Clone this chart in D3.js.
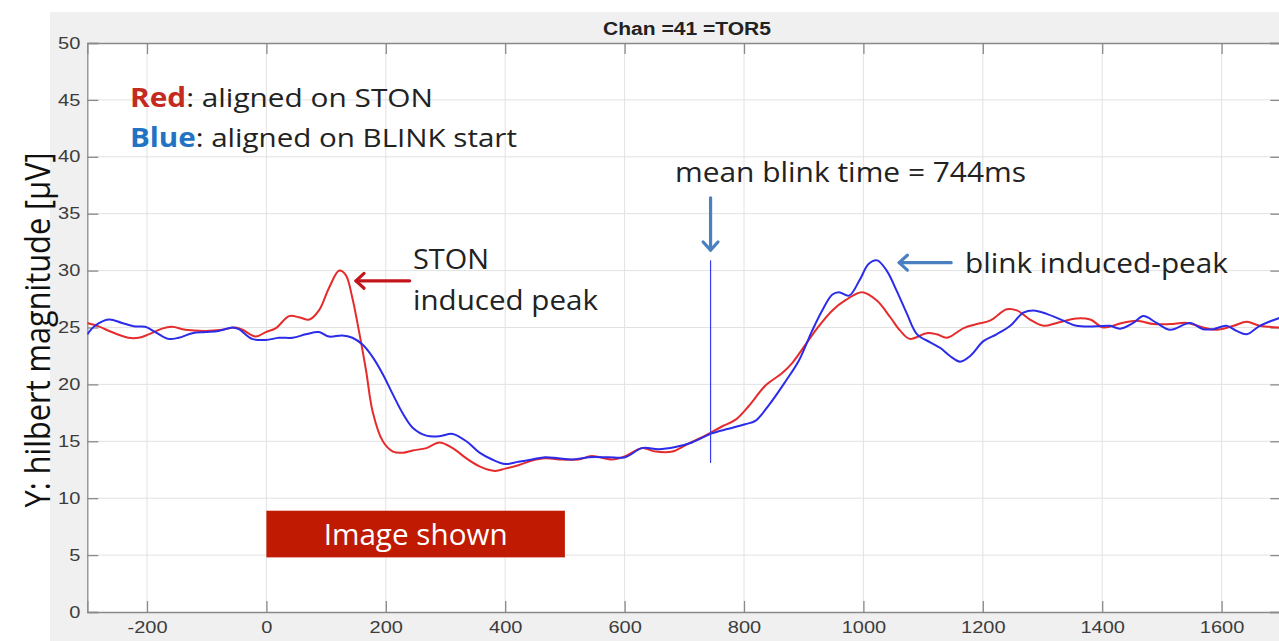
<!DOCTYPE html>
<html>
<head>
<meta charset="utf-8">
<script src="https://cdn.jsdelivr.net/npm/d3@7"></script>
<style>
  html, body { margin: 0; padding: 0; background: #fff; }
  svg { display: block; }
</style>
</head>
<body>
<div id="chart"></div>
<script>
// time axis (ms) and hilbert magnitude (uV)
const redTime = [-300, -281, -259, -231, -214, -197, -175, -158, -136, -102, -74, -52, -40, -18, -1, 16, 38, 55, 72, 88,
  105, 122, 133, 144, 155, 167, 178, 195, 212, 229, 245, 268, 290, 312, 335, 357, 383, 400, 422, 445,
  467, 495, 523, 545, 579, 601, 629, 652, 680, 707, 735, 763, 786, 808, 836, 864, 881, 903, 925, 948,
  970, 998, 1023, 1045, 1062, 1078, 1106, 1123, 1140, 1168, 1190, 1212, 1240, 1257, 1279, 1302, 1324, 1357, 1380, 1402,
  1430, 1458, 1486, 1514, 1542, 1569, 1592, 1620, 1642, 1664, 1700];
const redVals = [25.4, 25.1, 24.6, 24.1, 24.1, 24.4, 24.9, 25.06, 24.8, 24.7, 24.8, 25.0, 24.8, 24.2, 24.6, 24.95, 26.0, 25.9, 25.7, 26.5,
  28.5, 30.0, 29.6, 27.6, 24.7, 21.2, 17.6, 15.0, 14.1, 14.0, 14.2, 14.4, 14.9, 14.4, 13.5, 12.8, 12.4, 12.6, 12.9, 13.3,
  13.5, 13.4, 13.4, 13.7, 13.4, 13.7, 14.4, 14.1, 14.1, 14.8, 15.5, 16.3, 16.9, 18.1, 19.9, 21.0, 21.9, 23.5, 25.1, 26.5,
  27.4, 28.1, 27.35, 25.9, 24.7, 24.0, 24.5, 24.4, 24.1, 24.95, 25.3, 25.6, 26.6, 26.5, 25.7, 25.15, 25.4, 25.8, 25.7, 25.0,
  25.35, 25.6, 25.3, 25.3, 25.4, 25.0, 24.8, 25.15, 25.5, 25.15, 25.0];

const blueTime = [-300, -287, -264, -242, -222, -203, -186, -164, -147, -124, -102, -80, -57, -46, -24, -1, 21, 44, 66, 88,
  105, 127, 144, 161, 178, 195, 212, 229, 245, 268, 290, 312, 335, 357, 378, 400, 422, 445, 467, 489,
  512, 540, 573, 601, 629, 657, 685, 713, 746, 774, 802, 819, 842, 870, 892, 914, 931, 948, 959, 976,
  993, 1009, 1023, 1039, 1056, 1073, 1090, 1112, 1129, 1145, 1162, 1179, 1201, 1223, 1246, 1268, 1285, 1307, 1335, 1357,
  1391, 1413, 1430, 1452, 1469, 1491, 1514, 1547, 1569, 1586, 1608, 1625, 1642, 1664, 1700];
const blueVals = [24.4, 25.15, 25.7, 25.4, 25.1, 25.06, 24.6, 24.0, 24.1, 24.5, 24.6, 24.7, 25.0, 24.85, 24.0, 23.9, 24.1, 24.1, 24.4, 24.6,
  24.2, 24.3, 24.1, 23.5, 22.4, 20.9, 19.1, 17.4, 16.2, 15.5, 15.45, 15.65, 15.0, 14.0, 13.4, 13.0, 13.2, 13.4, 13.6, 13.5,
  13.4, 13.6, 13.6, 13.6, 14.4, 14.3, 14.5, 14.9, 15.7, 16.1, 16.5, 16.8, 18.2, 20.3, 22.1, 24.7, 26.5, 27.9, 28.1, 27.8,
  29.1, 30.6, 30.9, 30.0, 28.2, 26.2, 24.4, 23.7, 23.2, 22.5, 22.0, 22.5, 23.8, 24.4, 25.15, 26.3, 26.5, 26.2, 25.6, 25.15,
  25.1, 25.15, 24.9, 25.4, 26.0, 25.4, 24.8, 25.4, 24.85, 24.85, 25.15, 24.7, 24.4, 25.15, 25.9];

const xTicks = [-200, 0, 200, 400, 600, 800, 1000, 1200, 1400, 1600];
const yTicks = [0, 5, 10, 15, 20, 25, 30, 35, 40, 45, 50];

const meanBlink = 744;       // ms
const blinkLineRange = [13.1, 30.9];
const imageShown = [0, 500]; // ms
const imageBoxRange = [4.8, 8.9];

const width = 1279, height = 641;
const plot = { left: 87.3, right: 1281.3, top: 43, bottom: 612 };
const axisColor = '#8a8a8a';
const tickLen = 11;
const stretch = 1.25; // the source figure is stretched horizontally

const svg = d3.select('#chart').append('svg')
  .attr('width', width)
  .attr('height', height);

// figure background (matlab grey)
svg.append('rect')
  .attr('x', 50).attr('y', 12)
  .attr('width', width - 50).attr('height', height - 12)
  .attr('fill', '#f0f0f0');

const x = d3.scaleLinear().domain([-300, 1700]).range([plot.left, plot.right]);
const y = d3.scaleLinear().domain([0, 50]).range([plot.bottom, plot.top]);

svg.append('rect')
  .attr('x', plot.left).attr('y', plot.top)
  .attr('width', plot.right - plot.left).attr('height', plot.bottom - plot.top)
  .attr('fill', '#fff');

svg.append('defs').append('clipPath').attr('id', 'clip')
  .append('rect')
  .attr('x', plot.left).attr('y', plot.top)
  .attr('width', plot.right - plot.left).attr('height', plot.bottom - plot.top);

// grid
const grid = svg.append('g').attr('stroke', '#e2e2e2').attr('stroke-width', 1);
grid.selectAll('.gx').data(xTicks).enter().append('line')
  .attr('x1', d => x(d)).attr('x2', d => x(d))
  .attr('y1', plot.top).attr('y2', plot.bottom);
grid.selectAll('.gy').data(yTicks.slice(1, -1)).enter().append('line')
  .attr('x1', plot.left).attr('x2', plot.right)
  .attr('y1', d => y(d)).attr('y2', d => y(d));

// axes (inward ticks, box on)
const fmt = d => String(d);
const xAxis = d3.axisBottom(x).tickValues(xTicks).tickSize(-tickLen).tickPadding(10).tickFormat(fmt);
const yAxis = d3.axisLeft(y).tickValues(yTicks).tickSize(-tickLen).tickPadding(8).tickFormat(fmt);
const xTop = d3.axisTop(x).tickValues(xTicks).tickSize(-tickLen).tickFormat('');
const yRight = d3.axisRight(y).tickValues(yTicks).tickSize(-tickLen).tickFormat('');

const styleAxis = g => {
  g.select('.domain').attr('stroke', axisColor).attr('stroke-width', 1.3);
  g.selectAll('.tick line').attr('stroke', axisColor).attr('stroke-width', 1.3);
  g.selectAll('.tick text')
    .attr('fill', '#3c3c3c')
    .attr('font-family', 'Liberation Sans, Arial, sans-serif')
    .attr('font-size', 16);
};

svg.append('g').attr('transform', `translate(0,${plot.bottom})`).call(xAxis).call(styleAxis)
  .selectAll('.tick text').attr('transform', `scale(${stretch},1)`).attr('x', 0).attr('dy', '0.71em');
svg.append('g').attr('transform', `translate(${plot.left},0)`).call(yAxis).call(styleAxis)
  .selectAll('.tick text').attr('transform', `scale(${stretch},1)`)
  .attr('x', -7 / stretch);
svg.append('g').attr('transform', `translate(0,${plot.top})`).call(xTop).call(styleAxis);
svg.append('g').attr('transform', `translate(${plot.right},0)`).call(yRight).call(styleAxis);

// title
svg.append('text')
  .attr('x', 687).attr('y', 34.5)
  .attr('text-anchor', 'middle')
  .attr('font-family', 'Liberation Sans, Arial, sans-serif')
  .attr('font-weight', 'bold')
  .attr('font-size', 18)
  .attr('textLength', 168).attr('lengthAdjust', 'spacingAndGlyphs')
  .attr('fill', '#222')
  .text('Chan =41 =TOR5');

// y label
svg.append('text')
  .attr('transform', `translate(50,330) scale(${stretch},1) rotate(-90)`)
  .attr('text-anchor', 'middle')
  .attr('font-family', 'Open Sans, sans-serif')
  .attr('font-size', 28)
  .attr('textLength', 355).attr('lengthAdjust', 'spacingAndGlyphs')
  .attr('fill', '#111')
  .text('Y: hilbert magnitude [µV]');

// image shown box
svg.append('rect')
  .attr('x', x(imageShown[0])).attr('y', y(imageBoxRange[1]))
  .attr('width', x(imageShown[1]) - x(imageShown[0]))
  .attr('height', y(imageBoxRange[0]) - y(imageBoxRange[1]))
  .attr('fill', '#c01a02');
svg.append('text')
  .attr('x', (x(imageShown[0]) + x(imageShown[1])) / 2).attr('y', 545)
  .attr('text-anchor', 'middle')
  .attr('font-family', 'Open Sans, sans-serif')
  .attr('font-size', 30)
  .attr('textLength', 184).attr('lengthAdjust', 'spacingAndGlyphs')
  .attr('fill', '#fff')
  .text('Image shown');

// curves
const line = d3.line()
  .x(d => x(d[0]))
  .y(d => y(d[1]))
  .curve(d3.curveCatmullRom.alpha(0.5));

const lines = svg.append('g').attr('clip-path', 'url(#clip)');
lines.append('path')
  .datum(d3.zip(redTime, redVals))
  .attr('d', line)
  .attr('fill', 'none')
  .attr('stroke', '#e52b2b')
  .attr('stroke-width', 2);
lines.append('path')
  .datum(d3.zip(blueTime, blueVals))
  .attr('d', line)
  .attr('fill', 'none')
  .attr('stroke', '#2b2bea')
  .attr('stroke-width', 2);

// mean blink marker
svg.append('line')
  .attr('x1', x(meanBlink)).attr('x2', x(meanBlink))
  .attr('y1', y(blinkLineRange[0])).attr('y2', y(blinkLineRange[1]))
  .attr('stroke', '#3a3af2').attr('stroke-width', 1.2);

// arrows
const drawArrow = (x1, y1, x2, y2, color) => {
  const ang = Math.atan2(y2 - y1, x2 - x1);
  const h = 11;
  const g = svg.append('g').attr('stroke', color).attr('stroke-width', 3.2)
    .attr('fill', 'none').attr('stroke-linecap', 'round').attr('stroke-linejoin', 'round');
  g.append('line').attr('x1', x1).attr('y1', y1).attr('x2', x2).attr('y2', y2);
  g.append('path').attr('d', `M${x2 + h * Math.cos(ang + 2.4)},${y2 + h * Math.sin(ang + 2.4)} L${x2},${y2} L${x2 + h * Math.cos(ang - 2.4)},${y2 + h * Math.sin(ang - 2.4)}`);
};
drawArrow(x(240), y(29.1), x(150), y(29.1), '#c3151a');
drawArrow(x(1147), y(30.7), x(1060), y(30.7), '#4a7fc0');
drawArrow(x(meanBlink), y(36.4), x(meanBlink), y(31.8), '#4a7fc0');

// annotation texts
const txt = (tx, ty, len, size) => svg.append('text')
  .attr('x', tx).attr('y', ty)
  .attr('font-family', 'Open Sans, sans-serif')
  .attr('font-size', size)
  .attr('textLength', len).attr('lengthAdjust', 'spacingAndGlyphs')
  .attr('fill', '#222');

const l1 = txt(130, 107, 303, 26);
l1.append('tspan').attr('font-weight', 'bold').attr('fill', '#c42a1e').text('Red');
l1.append('tspan').text(': aligned on STON');
const l2 = txt(130, 147, 387, 26);
l2.append('tspan').attr('font-weight', 'bold').attr('fill', '#2373c5').text('Blue');
l2.append('tspan').text(': aligned on BLINK start');

txt(675, 182, 351, 27.5).text('mean blink time = 744ms');
txt(413, 269, 76, 28).text('STON');
txt(413, 310, 185, 28).text('induced peak');
txt(965, 273, 263, 27.5).text('blink induced-peak');
</script>
</body>
</html>
